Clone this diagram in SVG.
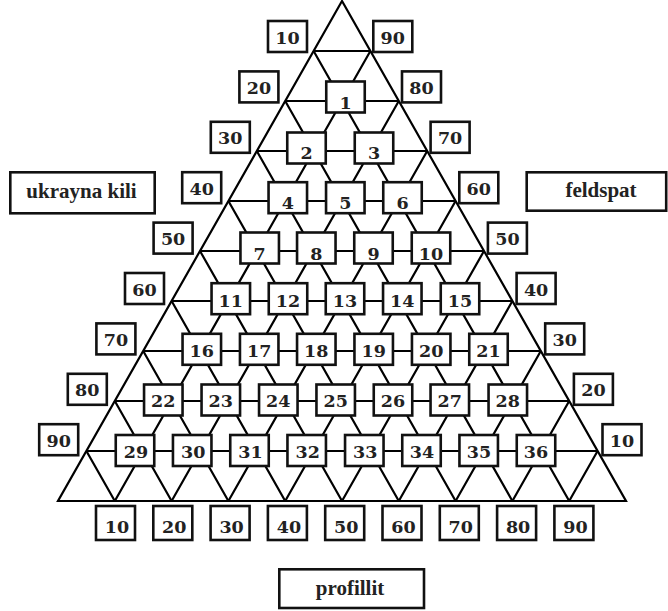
<svg xmlns="http://www.w3.org/2000/svg" width="668" height="611" viewBox="0 0 668 611">
  <style>
    .grid { fill: none; stroke: #000; stroke-width: 2.2; stroke-linejoin: miter; }
    .box { fill: #fff; stroke: #111; stroke-width: 2.6; }
    .num { font-family: "DejaVu Serif", "Liberation Serif", serif; font-weight: bold; font-size: 17.5px; fill: #222; text-anchor: middle; }
    .word { font-family: "Liberation Serif", "Times New Roman", serif; font-weight: bold; font-size: 21px; fill: #222; text-anchor: middle; }
  </style>
  <rect width="668" height="611" fill="#fff"/>

  <!-- triangular lattice: outline, horizontal rows and both diagonal families -->
  <g id="connectors" class="grid">
    <path d="M342,1 L58,501 L626,501 Z"/>
    <path d="M313.6,51H370.4 M285.2,101H398.8 M256.8,151H427.2 M228.4,201H455.6 M200,251H484 M171.6,301H512.4 M143.2,351H540.8 M114.8,401H569.2 M86.4,451H597.6"/>
    <path d="M313.6,51L569.2,501 M285.2,101L512.4,501 M256.8,151L455.6,501 M228.4,201L398.8,501 M200,251L342,501 M171.6,301L285.2,501 M143.2,351L228.4,501 M114.8,401L171.6,501 M86.4,451L114.8,501"/>
    <path d="M370.4,51L114.8,501 M398.8,101L171.6,501 M427.2,151L228.4,501 M455.6,201L285.2,501 M484,251L342,501 M512.4,301L398.8,501 M540.8,351L455.6,501 M569.2,401L512.4,501 M597.6,451L569.2,501"/>
  </g>

  <!-- numbered composition points -->
  <g id="node-1"><rect class="box" x="326.25" y="81.5" width="38.5" height="31"/><text class="num" x="345.5" y="108.5">1</text></g>

  <g id="node-2"><rect class="box" x="287.25" y="132.5" width="38.5" height="31"/><text class="num" x="306.5" y="159">2</text></g>
  <g id="node-3"><rect class="box" x="354.75" y="132.5" width="38.5" height="31"/><text class="num" x="374" y="159">3</text></g>

  <g id="node-4"><rect class="box" x="268.55" y="182.2" width="38.5" height="31"/><text class="num" x="287.8" y="209.3">4</text></g>
  <g id="node-5"><rect class="box" x="326.05" y="182.2" width="38.5" height="31"/><text class="num" x="345.3" y="209.3">5</text></g>
  <g id="node-6"><rect class="box" x="383.25" y="182.2" width="38.5" height="31"/><text class="num" x="402.5" y="209.3">6</text></g>

  <g id="node-7"><rect class="box" x="240.45" y="232.5" width="38.5" height="31"/><text class="num" x="259.7" y="260">7</text></g>
  <g id="node-8"><rect class="box" x="297.05" y="232.5" width="38.5" height="31"/><text class="num" x="316.3" y="260">8</text></g>
  <g id="node-9"><rect class="box" x="354.25" y="232.5" width="38.5" height="31"/><text class="num" x="373.5" y="260">9</text></g>
  <g id="node-10"><rect class="box" x="411.75" y="232.5" width="38.5" height="31"/><text class="num" x="431" y="260">10</text></g>

  <g id="node-11"><rect class="box" x="211.55" y="283.2" width="38.5" height="31"/><text class="num" x="230.8" y="307.3">11</text></g>
  <g id="node-12"><rect class="box" x="268.75" y="283.2" width="38.5" height="31"/><text class="num" x="288" y="307.3">12</text></g>
  <g id="node-13"><rect class="box" x="325.75" y="283.2" width="38.5" height="31"/><text class="num" x="345" y="307.3">13</text></g>
  <g id="node-14"><rect class="box" x="383.05" y="283.2" width="38.5" height="31"/><text class="num" x="402.3" y="307.3">14</text></g>
  <g id="node-15"><rect class="box" x="440.75" y="283.2" width="38.5" height="31"/><text class="num" x="460" y="307.3">15</text></g>

  <g id="node-16"><rect class="box" x="182.55" y="333.8" width="38.5" height="31"/><text class="num" x="201.8" y="356.7">16</text></g>
  <g id="node-17"><rect class="box" x="239.95" y="333.8" width="38.5" height="31"/><text class="num" x="259.2" y="356.7">17</text></g>
  <g id="node-18"><rect class="box" x="297.05" y="333.8" width="38.5" height="31"/><text class="num" x="316.3" y="356.7">18</text></g>
  <g id="node-19"><rect class="box" x="354.45" y="333.8" width="38.5" height="31"/><text class="num" x="373.7" y="356.7">19</text></g>
  <g id="node-20"><rect class="box" x="411.95" y="333.8" width="38.5" height="31"/><text class="num" x="431.2" y="356.7">20</text></g>
  <g id="node-21"><rect class="box" x="469.25" y="333.8" width="38.5" height="31"/><text class="num" x="488.5" y="356.7">21</text></g>

  <g id="node-22"><rect class="box" x="144.05" y="384.5" width="38.5" height="31"/><text class="num" x="163.3" y="407.3">22</text></g>
  <g id="node-23"><rect class="box" x="201.55" y="384.5" width="38.5" height="31"/><text class="num" x="220.8" y="407.3">23</text></g>
  <g id="node-24"><rect class="box" x="259.05" y="384.5" width="38.5" height="31"/><text class="num" x="278.3" y="407.3">24</text></g>
  <g id="node-25"><rect class="box" x="316.45" y="384.5" width="38.5" height="31"/><text class="num" x="335.7" y="407.3">25</text></g>
  <g id="node-26"><rect class="box" x="373.75" y="384.5" width="38.5" height="31"/><text class="num" x="393" y="407.3">26</text></g>
  <g id="node-27"><rect class="box" x="430.55" y="384.5" width="38.5" height="31"/><text class="num" x="449.8" y="407.3">27</text></g>
  <g id="node-28"><rect class="box" x="488.55" y="384.5" width="38.5" height="31"/><text class="num" x="507.8" y="407.3">28</text></g>

  <g id="node-29"><rect class="box" x="115.75" y="435" width="38.5" height="31"/><text class="num" x="136" y="458.3">29</text></g>
  <g id="node-30"><rect class="box" x="172.95" y="435" width="38.5" height="31"/><text class="num" x="193.2" y="458.3">30</text></g>
  <g id="node-31"><rect class="box" x="230.25" y="435" width="38.5" height="31"/><text class="num" x="250.5" y="458.3">31</text></g>
  <g id="node-32"><rect class="box" x="287.45" y="435" width="38.5" height="31"/><text class="num" x="307.7" y="458.3">32</text></g>
  <g id="node-33"><rect class="box" x="345.05" y="435" width="38.5" height="31"/><text class="num" x="365.3" y="458.3">33</text></g>
  <g id="node-34"><rect class="box" x="402.25" y="435" width="38.5" height="31"/><text class="num" x="422" y="458.3">34</text></g>
  <g id="node-35"><rect class="box" x="459.45" y="435" width="38.5" height="31"/><text class="num" x="479" y="458.3">35</text></g>
  <g id="node-36"><rect class="box" x="516.75" y="435" width="38.5" height="31"/><text class="num" x="536" y="458.3">36</text></g>

  <!-- left axis scale -->
  <g id="scale-left">
    <rect class="box" x="268" y="21" width="39" height="31"/><text class="num" x="287.5" y="43.5">10</text>
    <rect class="box" x="239.4" y="71.4" width="39" height="31"/><text class="num" x="258.9" y="93.9">20</text>
    <rect class="box" x="210.8" y="121.8" width="39" height="31"/><text class="num" x="230.3" y="144.3">30</text>
    <rect class="box" x="182.2" y="172.2" width="39" height="31"/><text class="num" x="201.7" y="194.7">40</text>
    <rect class="box" x="153.6" y="222.6" width="39" height="31"/><text class="num" x="173.1" y="245.1">50</text>
    <rect class="box" x="125" y="273" width="39" height="31"/><text class="num" x="144.5" y="295.5">60</text>
    <rect class="box" x="96.4" y="323.4" width="39" height="31"/><text class="num" x="115.9" y="345.9">70</text>
    <rect class="box" x="67.8" y="373.8" width="39" height="31"/><text class="num" x="87.3" y="396.3">80</text>
    <rect class="box" x="39.2" y="424.2" width="39" height="31"/><text class="num" x="58.7" y="446.7">90</text>
  </g>

  <!-- right axis scale -->
  <g id="scale-right">
    <rect class="box" x="373.3" y="21" width="39" height="31"/><text class="num" x="392.8" y="43.5">90</text>
    <rect class="box" x="402" y="71.4" width="39" height="31"/><text class="num" x="421.5" y="93.9">80</text>
    <rect class="box" x="430.6" y="121.8" width="39" height="31"/><text class="num" x="450.1" y="144.3">70</text>
    <rect class="box" x="459.3" y="172.2" width="39" height="31"/><text class="num" x="478.8" y="194.7">60</text>
    <rect class="box" x="487.9" y="222.6" width="39" height="31"/><text class="num" x="507.4" y="245.1">50</text>
    <rect class="box" x="516.6" y="273" width="39" height="31"/><text class="num" x="536.1" y="295.5">40</text>
    <rect class="box" x="545.2" y="323.4" width="39" height="31"/><text class="num" x="564.7" y="345.9">30</text>
    <rect class="box" x="573.9" y="373.8" width="39" height="31"/><text class="num" x="593.4" y="396.3">20</text>
    <rect class="box" x="602.5" y="424.2" width="39" height="31"/><text class="num" x="622" y="446.7">10</text>
  </g>

  <!-- bottom axis scale -->
  <g id="scale-bottom">
    <rect class="box" x="96" y="506" width="39" height="34"/><text class="num" x="117" y="533">10</text>
    <rect class="box" x="153.3" y="506" width="39" height="34"/><text class="num" x="174.3" y="533">20</text>
    <rect class="box" x="210.6" y="506" width="39" height="34"/><text class="num" x="231.6" y="533">30</text>
    <rect class="box" x="267.9" y="506" width="39" height="34"/><text class="num" x="288.9" y="533">40</text>
    <rect class="box" x="325.2" y="506" width="39" height="34"/><text class="num" x="346.2" y="533">50</text>
    <rect class="box" x="382.5" y="506" width="39" height="34"/><text class="num" x="403.5" y="533">60</text>
    <rect class="box" x="439.8" y="506" width="39" height="34"/><text class="num" x="460.8" y="533">70</text>
    <rect class="box" x="497.1" y="506" width="39" height="34"/><text class="num" x="518.1" y="533">80</text>
    <rect class="box" x="554.4" y="506" width="39" height="34"/><text class="num" x="575.4" y="533">90</text>
  </g>

  <!-- end-member names -->
  <g id="apex-left"><rect class="box" x="10.3" y="172.3" width="144.4" height="41" stroke-width="2.8"/><text class="word" x="81.5" y="198.3">ukrayna kili</text></g>
  <g id="apex-right"><rect class="box" x="526.7" y="172.3" width="139.5" height="38.4" stroke-width="2.8"/><text class="word" x="601" y="196.5">feldspat</text></g>
  <g id="apex-bottom"><rect class="box" x="279.3" y="569.3" width="144.7" height="38.7" stroke-width="2.8"/><text class="word" x="350" y="595">profillit</text></g>
</svg>
